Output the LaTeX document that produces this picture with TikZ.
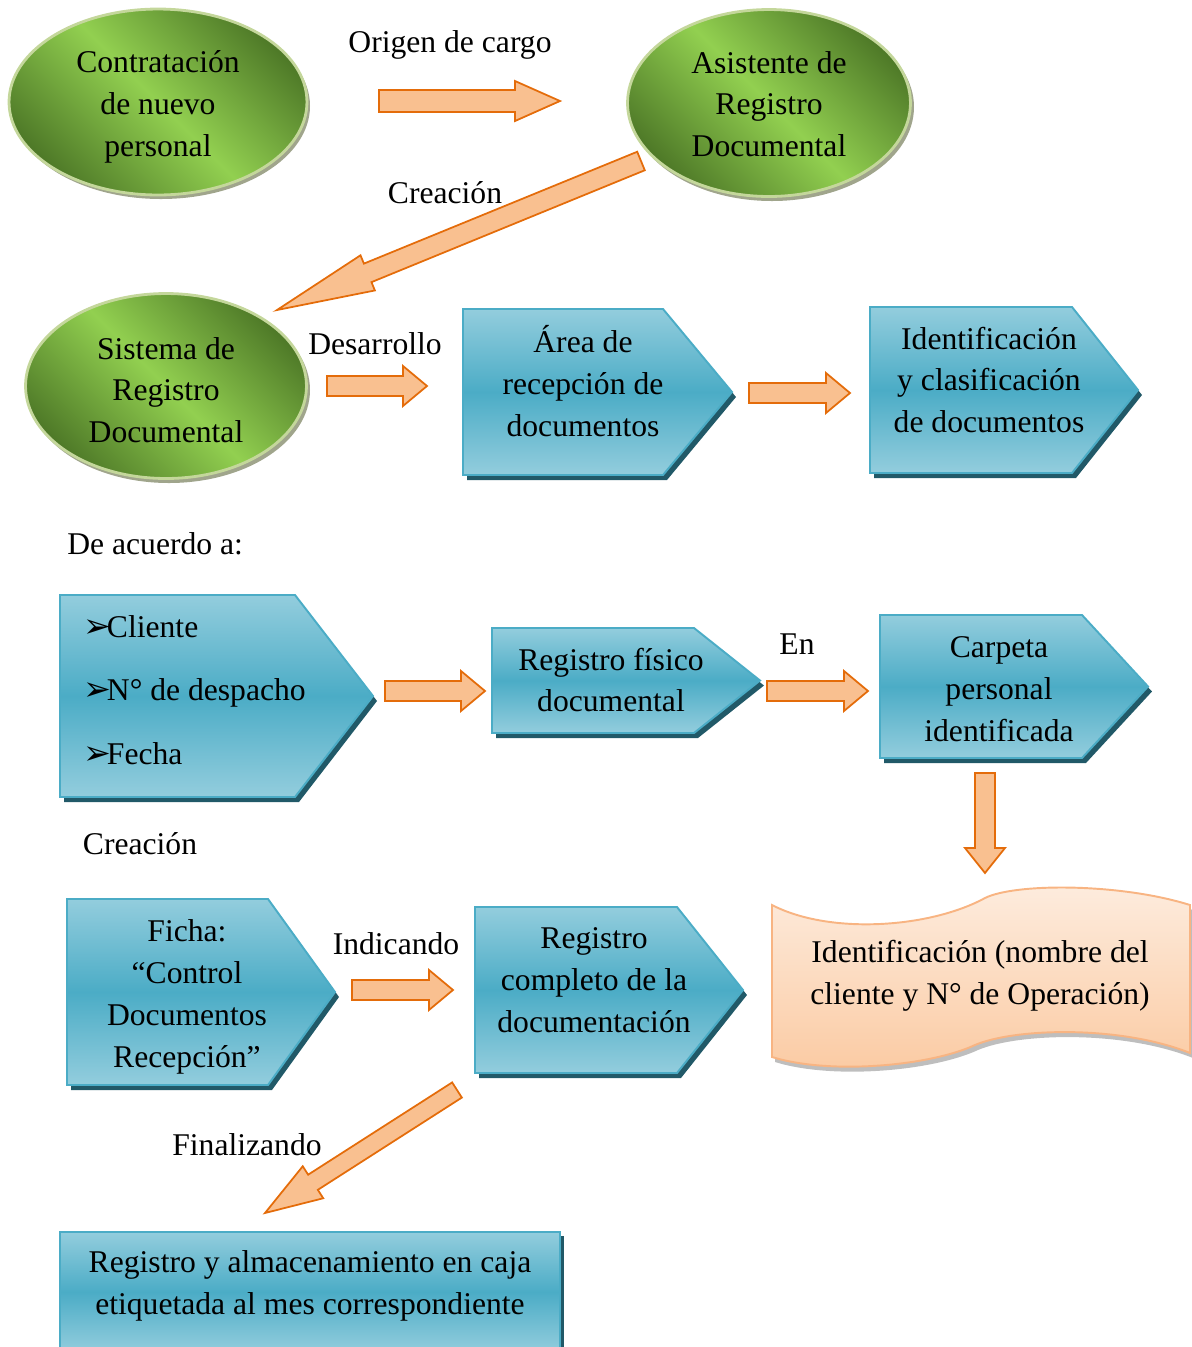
\documentclass[tikz,border=0pt]{standalone}
\usepackage{fontspec}
\setmainfont{Liberation Serif}
\newfontfamily\dejavu{DejaVu Sans}
\usetikzlibrary{calc,shapes.geometric}
\definecolor{gdark}{RGB}{79,122,40}
\definecolor{glight}{RGB}{146,208,80}
\definecolor{gborder}{RGB}{196,215,155}
\definecolor{eshadow}{RGB}{160,165,140}
\definecolor{bmid}{RGB}{75,172,198}
\definecolor{blight}{RGB}{147,205,221}
\definecolor{bshadow}{RGB}{33,89,104}
\definecolor{afill}{RGB}{249,192,144}
\definecolor{aborder}{RGB}{228,108,10}
\definecolor{wtop}{RGB}{253,236,222}
\definecolor{wbot}{RGB}{251,202,162}
\definecolor{wborder}{RGB}{248,180,130}
\definecolor{wshadow}{RGB}{190,190,190}
\newcommand\fatarrow[5]{%
  \pgfmathsetmacro\fw{#3*0.02}%
  \pgfmathsetmacro\fW{#4*0.02}%
  \pgfmathsetmacro\fh{#5*0.02}%
  \coordinate (fatH) at ($(#2)!\fh cm!(#1)$);
  \draw[fatarr] ($(#1)!\fw cm!90:(#2)$) -- ($(fatH)!\fw cm!90:(#2)$) -- ($(fatH)!\fW cm!90:(#2)$) -- (#2) -- ($(fatH)!\fW cm!-90:(#2)$) -- ($(fatH)!\fw cm!-90:(#2)$) -- ($(#1)!\fw cm!-90:(#2)$) -- cycle;
}
% pentagon: x1,y1,xp,xt,y2
\newcommand\pentbox[5]{%
  \pgfmathsetmacro\pym{(#2+#5)/2}%
  \fill[bshadow, shift={(4,5)}] (#1,#2) -- (#3,#2) -- (#4,\pym) -- (#3,#5) -- (#1,#5) -- cycle;
  \draw[pentfill] (#1,#2) -- (#3,#2) -- (#4,\pym) -- (#3,#5) -- (#1,#5) -- cycle;
}
\newcommand\bul{{\dejavu\fontsize{19}{23.8}\selectfont\symbol{"27A2}}\kern-2.5pt}
\begin{document}
\begin{tikzpicture}[x=0.02cm,y=-0.02cm,
  txt/.style={font=\fontsize{18}{23.8}\selectfont, align=center, inner sep=0pt},
  ell/.style={ellipse, draw=gborder, line width=1.6pt, top color=gdark, bottom color=gdark, middle color=glight, shading angle=-45, inner sep=0pt},
  pentfill/.style={draw=bmid, line width=1.1pt, top color=blight, bottom color=blight, middle color=bmid},
  fatarr/.style={draw=aborder, fill=afill, line width=1pt, line join=miter},
]
\useasboundingbox (0,0) rectangle (1192,1347);
\clip (0,0) rectangle (1192,1347);

% ellipses
\fill[eshadow] (161,106) ellipse [x radius=149, y radius=93];
\node[ell, minimum width=5.96cm, minimum height=3.72cm] (e1) at (158,102) {};
\node[txt] (e1t) at (158,107) {Contratación\\de nuevo\\personal};
\fill[eshadow] (772,107) ellipse [x radius=142, y radius=94];
\node[ell, minimum width=5.66cm, minimum height=3.74cm] (e2) at (769,103) {};
\node[txt] (e2t) at (769,104) {Asistente de\\Registro\\Documental};
\fill[eshadow] (169,390) ellipse [x radius=141, y radius=93];
\node[ell, minimum width=5.62cm, minimum height=3.7cm] (e3) at (166,386) {};
\node[txt] (e3t) at (166,390) {Sistema de\\Registro\\Documental};

% pentagons
\pentbox{463}{309}{663}{732}{475}
\node[txt] (p1) at (583,381) {Área de\\recepción de\\documentos};
\pentbox{870}{307}{1072}{1138}{473}
\node[txt] (p2) at (989,380) {Identificación\\y clasificación\\de documentos};
\pentbox{60}{595}{295}{373}{797}
\node[txt, align=left, anchor=west] (p3) at (83,690) {\bul Cliente\\[12.5pt]\bul N° de despacho\\[12.5pt]\bul Fecha};
\pentbox{492}{628}{694}{760}{733}
\node[txt] (p4) at (611,680) {Registro físico\\documental};
\pentbox{880}{615}{1082}{1148}{758}
\node[txt] (p5) at (999,689) {Carpeta\\personal\\identificada};
\pentbox{67}{899}{268}{335}{1085}
\node[txt] (p6) at (187,997) {Ficha:\\“Control\\Documentos\\Recepción”};
\pentbox{475}{907}{677}{743}{1073}
\node[txt] (p7) at (594,980) {Registro\\completo de la\\documentación};

% wave
\fill[wshadow, shift={(3,5)}] (772,905) .. controls (830,935) and (930,928) .. (985,898) .. controls (1015,883) and (1120,883) .. (1190,905) -- (1190,1053) .. controls (1120,1025) and (1015,1028) .. (975,1045) .. controls (930,1066) and (830,1075) .. (772,1057) -- cycle;
\draw[draw=wborder, line width=1.1pt, top color=wtop, bottom color=wbot] (772,905) .. controls (830,935) and (930,928) .. (985,898) .. controls (1015,883) and (1120,883) .. (1190,905) -- (1190,1053) .. controls (1120,1025) and (1015,1028) .. (975,1045) .. controls (930,1066) and (830,1075) .. (772,1057) -- cycle;
\node[txt] (w) at (980,976) {Identificación (nombre del\\cliente y N° de Operación)};

% bottom rectangle
\fill[bshadow] (64,1236) rectangle (564,1356);
\draw[pentfill] (60,1232) rectangle (560,1352);
\node[txt] (r) at (310,1286) {Registro y almacenamiento en caja\\etiquetada al mes correspondiente};

% labels
\node[txt] (l1) at (450,45) {Origen de cargo};
\node[txt] (l2) at (445,193) {Creación};
\node[txt] (l3) at (375,344) {Desarrollo};
\node[txt, anchor=west] (l4) at (67,544) {De acuerdo a:};
\node[txt] (l5) at (797,644) {En};
\node[txt] (l6) at (140,844) {Creación};
\node[txt] (l7) at (396,944) {Indicando};
\node[txt] (l8) at (247,1145) {Finalizando};

% arrows
\coordinate (a1s) at (379,101); \coordinate (a1e) at (560,101);
\coordinate (a2s) at (641,161); \coordinate (a2e) at (277,310);
\coordinate (a3s) at (327,386); \coordinate (a3e) at (427,386);
\coordinate (a4s) at (749,393); \coordinate (a4e) at (850,393);
\coordinate (a5s) at (385,691); \coordinate (a5e) at (485,691);
\coordinate (a6s) at (767,691); \coordinate (a6e) at (868,691);
\coordinate (a7s) at (985,773); \coordinate (a7e) at (985,873);
\coordinate (a8s) at (352,990); \coordinate (a8e) at (453,990);
\coordinate (a9s) at (457,1090); \coordinate (a9e) at (265,1213);
\fatarrow{a1s}{a1e}{11}{20}{45}
\fatarrow{a2s}{a2e}{10}{19}{98}
\fatarrow{a3s}{a3e}{10}{20}{24}
\fatarrow{a4s}{a4e}{10}{20}{24}
\fatarrow{a5s}{a5e}{10}{20}{24}
\fatarrow{a6s}{a6e}{10}{20}{24}
\fatarrow{a7s}{a7e}{10}{20}{25}
\fatarrow{a8s}{a8e}{10}{20}{24}
\fatarrow{a9s}{a9e}{9}{19}{57}
\end{tikzpicture}
\end{document}
